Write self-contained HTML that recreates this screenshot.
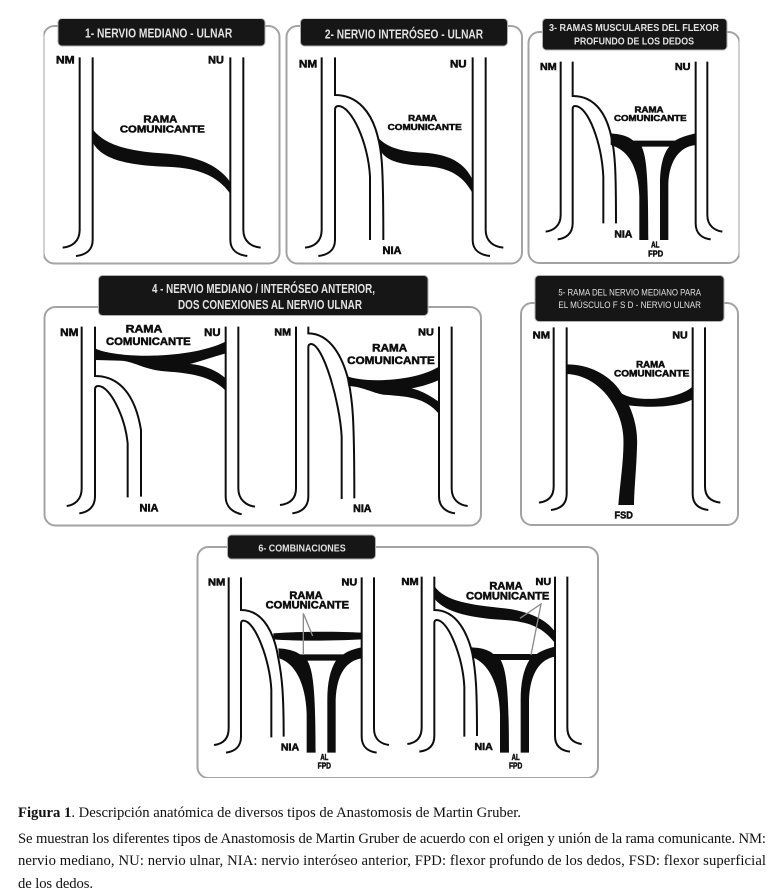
<!DOCTYPE html>
<html lang="es">
<head>
<meta charset="utf-8">
<title>Figura 1</title>
<style>
html,body{margin:0;padding:0;background:#fff;width:771px;height:894px;overflow:hidden}
svg{display:block;position:absolute;left:0;top:0}
.box{fill:#fff;stroke:#a3a3a3;stroke-width:2}
.bar{fill:#121212;stroke:#b0b0b0;stroke-width:1}
.l{fill:none;stroke:#111;stroke-width:6}
.k{fill:#0a0a0a;stroke:none}
.c{fill:none;stroke:#8a8a8a;stroke-width:4}
text{font-family:"Liberation Sans",sans-serif;font-weight:bold}
.t{font-family:"Liberation Sans Narrow","Liberation Sans",sans-serif;fill:#e2e2e2;text-anchor:middle}
.n{fill:#111;stroke:#111;stroke-width:1.6;text-anchor:middle}
.cap{font-family:"Liberation Serif",serif;font-weight:normal;font-size:14.67px;fill:#111}
</style>
</head>
<body>
<svg width="771" height="894" viewBox="0 0 771 894" xmlns="http://www.w3.org/2000/svg">
<defs><filter id="soft" x="0" y="0" width="100%" height="100%"><feGaussianBlur stdDeviation="0.35"/></filter></defs>
<rect width="771" height="894" fill="#fff"/>
<g filter="url(#soft)">
<!-- boxes -->
<rect class="box" x="43.5" y="26" width="236" height="237.5" rx="11"/>
<rect class="box" x="286.5" y="26" width="235.5" height="237.5" rx="11"/>
<rect class="box" x="528.5" y="32" width="211" height="231" rx="11"/>
<rect class="box" x="44.5" y="307" width="436.5" height="218.5" rx="11"/>
<rect class="box" x="521" y="303" width="217" height="222" rx="11"/>
<rect class="box" x="197.5" y="547" width="400.5" height="231" rx="11"/>
<!-- title bars -->
<rect class="bar" x="58" y="18.5" width="207" height="27.5" rx="4"/>
<rect class="bar" x="300.5" y="18.5" width="207" height="27.5" rx="4"/>
<rect class="bar" x="542.5" y="18.5" width="184.5" height="31.5" rx="4"/>
<rect class="bar" x="98.5" y="275.5" width="329.5" height="40" rx="4"/>
<rect class="bar" x="535" y="275.5" width="189" height="46" rx="4"/>
<rect class="bar" x="227.5" y="535" width="148" height="24" rx="4"/>

<!-- Panel 1 -->
<g transform="translate(30,10) scale(.33333)">
<path class="l" d="M149 142V660C149 695 125 710 98 713M188 142V690C188 722 165 735 138 738M601 142V690C601 722 625 735 652 738M640 142V660C640 695 665 710 692 713"/>
<path class="k" d="M190 360C225 405 300 425 400 430C500 437 565 465 600 515V550C560 495 500 472 400 470C285 465 215 445 190 400Z"/>
<text class="t" x="386" y="82" font-size="38" textLength="442" lengthAdjust="spacingAndGlyphs">1- NERVIO MEDIANO - ULNAR</text>
<text class="n" x="106" y="160" font-size="32" textLength="56" lengthAdjust="spacingAndGlyphs">NM</text>
<text class="n" x="558" y="160" font-size="32" textLength="47" lengthAdjust="spacingAndGlyphs">NU</text>
<text class="n" x="391" y="338" font-size="31" textLength="102" lengthAdjust="spacingAndGlyphs">RAMA</text>
<text class="n" x="397" y="368" font-size="31" textLength="255" lengthAdjust="spacingAndGlyphs">COMUNICANTE</text>
</g>

<!-- Panel 2 -->
<g transform="translate(280,10) scale(.33333)">
<path class="l" d="M125 142V660C125 695 102 710 75 713M165 142V255C235 255 275 310 292 375C305 420 310 460 310 690M270 690V500C265 400 215 288 175 288C168 288 165 292 165 300V690C165 722 142 735 115 738M578 142V690C578 722 602 735 630 738M617 142V660C617 695 642 710 670 713"/>
<path class="k" d="M290 378C320 415 370 425 430 428C510 433 555 460 578 510V550C545 490 500 472 430 468C350 463 320 450 303 425Z"/>
<text class="t" x="372" y="86" font-size="38" textLength="475" lengthAdjust="spacingAndGlyphs">2- NERVIO INTERÓSEO - ULNAR</text>
<text class="n" x="84" y="172" font-size="32" textLength="55" lengthAdjust="spacingAndGlyphs">NM</text>
<text class="n" x="535" y="172" font-size="32" textLength="50" lengthAdjust="spacingAndGlyphs">NU</text>
<text class="n" x="428" y="333" font-size="26" textLength="87" lengthAdjust="spacingAndGlyphs">RAMA</text>
<text class="n" x="434" y="360" font-size="26" textLength="222" lengthAdjust="spacingAndGlyphs">COMUNICANTE</text>
<text class="n" x="336" y="732" font-size="32" textLength="57" lengthAdjust="spacingAndGlyphs">NIA</text>
</g>

<!-- Panel 3 -->
<g transform="translate(520,10) scale(.33333)">
<path class="l" d="M122 155V615C122 648 100 662 77 665M158 155V258C230 258 262 320 275 385C285 430 288 480 288 640M250 640V500C245 400 205 288 165 288C160 288 158 292 158 298V640C158 672 136 685 113 688M527 155V640C527 672 548 685 572 688M562 155V615C562 648 585 662 607 665"/>
<path class="k" d="M272 370C300 372 325 378 340 392H465C480 382 505 375 527 370V405C480 410 448 450 445 520V690H420V520C420 470 430 430 448 410H365C378 440 385 480 385 690H358V560C355 470 325 420 272 405Z"/>
<text class="t" x="342" y="63" font-size="31" textLength="510" lengthAdjust="spacingAndGlyphs">3- RAMAS MUSCULARES DEL FLEXOR</text>
<text class="t" x="342" y="103" font-size="31" textLength="360" lengthAdjust="spacingAndGlyphs">PROFUNDO DE LOS DEDOS</text>
<text class="n" x="85" y="180" font-size="30" textLength="50" lengthAdjust="spacingAndGlyphs">NM</text>
<text class="n" x="488" y="180" font-size="30" textLength="47" lengthAdjust="spacingAndGlyphs">NU</text>
<text class="n" x="387" y="307" font-size="26" textLength="87" lengthAdjust="spacingAndGlyphs">RAMA</text>
<text class="n" x="391" y="333" font-size="26" textLength="218" lengthAdjust="spacingAndGlyphs">COMUNICANTE</text>
<text class="n" x="310" y="683" font-size="30" textLength="54" lengthAdjust="spacingAndGlyphs">NIA</text>
<text class="n" x="406" y="713" font-size="24" textLength="25" lengthAdjust="spacingAndGlyphs">AL</text>
<text class="n" x="407" y="740" font-size="26" textLength="45" lengthAdjust="spacingAndGlyphs">FPD</text>
</g>

<!-- Panel 4 title -->
<text class="t" x="263.5" y="293" font-size="12.5" textLength="223" lengthAdjust="spacingAndGlyphs">4 - NERVIO MEDIANO / INTERÓSEO ANTERIOR,</text>
<text class="t" x="270" y="309" font-size="12.5" textLength="184" lengthAdjust="spacingAndGlyphs">DOS CONEXIONES  AL NERVIO ULNAR</text>

<!-- Panel 4 left -->
<g transform="translate(35,270) scale(.33333)">
<path class="l" d="M140 170V655C140 690 118 705 95 708M180 170V318C250 318 300 370 318 480V680M278 682V520C270 440 225 348 190 348C183 348 180 352 180 358V680C180 712 158 727 133 730M572 170V680C572 712 595 727 620 733M610 170V655C610 690 635 707 660 710"/>
<path class="k" d="M180 235C240 265 460 270 572 215V250C530 262 490 275 465 282C510 285 550 305 572 325V362C530 320 470 310 400 305C320 300 300 272 250 272L180 270Z"/>
<text class="n" x="103" y="198" font-size="32" textLength="55" lengthAdjust="spacingAndGlyphs">NM</text>
<text class="n" x="532" y="198" font-size="32" textLength="49" lengthAdjust="spacingAndGlyphs">NU</text>
<text class="n" x="327" y="188" font-size="33" textLength="110" lengthAdjust="spacingAndGlyphs">RAMA</text>
<text class="n" x="340" y="225" font-size="33" textLength="254" lengthAdjust="spacingAndGlyphs">COMUNICANTE</text>
<text class="n" x="342" y="725" font-size="32" textLength="57" lengthAdjust="spacingAndGlyphs">NIA</text>
</g>

<!-- Panel 4 right -->
<g transform="translate(265,270) scale(.33333)">
<path class="l" d="M93 170V655C93 690 70 702 45 705M130 170V190C200 190 235 270 250 330C262 390 268 430 268 685M230 687V500C225 400 175 222 138 222C133 222 130 226 130 232V680C130 712 108 727 82 730M522 170V680C522 712 545 727 570 730M560 170V655C560 690 583 705 608 708"/>
<path class="k" d="M245 318C300 340 450 335 522 290V330C500 340 470 350 440 355C480 365 505 385 522 395V432C480 380 420 380 370 375C330 375 300 350 250 348Z"/>
<text class="n" x="53" y="196" font-size="30" textLength="50" lengthAdjust="spacingAndGlyphs">NM</text>
<text class="n" x="483" y="196" font-size="30" textLength="47" lengthAdjust="spacingAndGlyphs">NU</text>
<text class="n" x="374" y="245" font-size="33" textLength="105" lengthAdjust="spacingAndGlyphs">RAMA</text>
<text class="n" x="378" y="282" font-size="33" textLength="263" lengthAdjust="spacingAndGlyphs">COMUNICANTE</text>
<text class="n" x="292" y="726" font-size="32" textLength="55" lengthAdjust="spacingAndGlyphs">NIA</text>
</g>

<!-- Panel 5 -->
<g transform="translate(515,270) scale(.33333)">
<path class="l" d="M116 172V650C116 684 95 695 72 698M155 172V672C155 706 132 717 108 720M533 172V672C533 706 556 717 580 720M570 172V650C570 684 592 695 616 698"/>
<path class="k" d="M155 283C230 283 290 320 320 370C355 395 480 395 533 350V388C490 410 410 415 342 406C362 450 368 490 366 530C364 600 358 650 357 705H310C315 640 328 560 325 500C320 410 250 315 155 312Z"/>
<text class="t" x="344" y="76" font-size="28" textLength="428" lengthAdjust="spacingAndGlyphs" style="font-weight:normal">5- RAMA DEL NERVIO MEDIANO PARA</text>
<text class="t" x="344" y="114" font-size="28" textLength="428" lengthAdjust="spacingAndGlyphs" style="font-weight:normal">EL MÚSCULO  F S D  -  NERVIO ULNAR</text>
<text class="n" x="79" y="205" font-size="30" textLength="52" lengthAdjust="spacingAndGlyphs">NM</text>
<text class="n" x="495" y="205" font-size="30" textLength="46" lengthAdjust="spacingAndGlyphs">NU</text>
<text class="n" x="407" y="292" font-size="27" textLength="87" lengthAdjust="spacingAndGlyphs">RAMA</text>
<text class="n" x="410" y="320" font-size="27" textLength="226" lengthAdjust="spacingAndGlyphs">COMUNICANTE</text>
<text class="n" x="326" y="745" font-size="30" textLength="55" lengthAdjust="spacingAndGlyphs">FSD</text>
</g>

<!-- Panel 6 left -->
<g transform="translate(190,530) scale(.33333)">
<path class="l" d="M116 142V595C116 630 95 642 72 645M153 142V240C225 240 255 320 265 385C276 440 281 490 281 620M244 622V480C240 390 195 272 160 272C155 272 153 276 153 282V620C153 652 132 665 108 668M515 142V620C515 652 536 665 560 668M552 142V595C552 630 575 642 597 645"/>
<path class="k" d="M250 310C330 304 440 304 515 308V328C440 332 330 334 250 328Z"/>
<path class="k" d="M265 355C290 356 315 362 330 373H460C475 362 495 356 515 352V385C470 392 440 430 437 510V668H412V510C412 460 420 420 438 392H352C368 420 377 470 377 668H350V550C347 460 315 400 268 385Z"/>
<path class="c" d="M368 318L340 250L340 375"/>
<text class="t" x="336" y="65" font-size="31" textLength="262" lengthAdjust="spacingAndGlyphs">6- COMBINACIONES</text>
<text class="n" x="80" y="167" font-size="30" textLength="52" lengthAdjust="spacingAndGlyphs">NM</text>
<text class="n" x="478" y="167" font-size="30" textLength="47" lengthAdjust="spacingAndGlyphs">NU</text>
<text class="n" x="348" y="207" font-size="33" textLength="100" lengthAdjust="spacingAndGlyphs">RAMA</text>
<text class="n" x="352" y="236" font-size="33" textLength="250" lengthAdjust="spacingAndGlyphs">COMUNICANTE</text>
<text class="n" x="300" y="662" font-size="30" textLength="55" lengthAdjust="spacingAndGlyphs">NIA</text>
<text class="n" x="403" y="690" font-size="24" textLength="24" lengthAdjust="spacingAndGlyphs">AL</text>
<text class="n" x="403" y="716" font-size="26" textLength="40" lengthAdjust="spacingAndGlyphs">FPD</text>
</g>

<!-- Panel 6 right -->
<g transform="translate(395,530) scale(.33333)">
<path class="l" d="M80 140V592C80 627 60 639 37 642M118 140V240C190 240 220 320 232 370C243 430 246 480 246 618M208 620V470C203 380 160 270 125 270C120 270 118 274 118 280V618C118 650 97 662 73 665M480 140V618C480 650 500 662 525 665M517 140V592C517 627 538 639 560 642"/>
<path class="k" d="M118 168C150 215 230 225 330 235C400 245 450 265 480 305V340C440 285 390 275 330 270C240 265 150 250 118 205Z"/>
<path class="k" d="M230 352C255 353 280 358 295 372H425C440 362 460 355 480 350V380C435 388 405 430 402 510V668H377V510C377 460 385 420 403 390H317C333 420 342 470 342 668H315V550C312 460 280 400 233 382Z"/>
<path class="c" d="M375 265L438 222L408 375"/>
<text class="n" x="45" y="165" font-size="30" textLength="52" lengthAdjust="spacingAndGlyphs">NM</text>
<text class="n" x="445" y="165" font-size="30" textLength="47" lengthAdjust="spacingAndGlyphs">NU</text>
<text class="n" x="333" y="178" font-size="33" textLength="100" lengthAdjust="spacingAndGlyphs">RAMA</text>
<text class="n" x="338" y="208" font-size="33" textLength="250" lengthAdjust="spacingAndGlyphs">COMUNICANTE</text>
<text class="n" x="266" y="660" font-size="30" textLength="55" lengthAdjust="spacingAndGlyphs">NIA</text>
<text class="n" x="362" y="690" font-size="24" textLength="24" lengthAdjust="spacingAndGlyphs">AL</text>
<text class="n" x="362" y="716" font-size="26" textLength="40" lengthAdjust="spacingAndGlyphs">FPD</text>
</g>
</g>

<!-- Caption -->
<text class="cap" x="18" y="817" textLength="503"><tspan font-weight="bold">Figura 1</tspan>. Descripción anatómica de diversos tipos de Anastomosis de Martin Gruber.</text>
<text class="cap" x="18" y="843" textLength="748" lengthAdjust="spacing">Se muestran los diferentes tipos de Anastomosis de Martin Gruber de acuerdo con el origen y unión de la rama comunicante. NM:</text>
<text class="cap" x="18" y="865" textLength="748" lengthAdjust="spacing">nervio mediano, NU: nervio ulnar, NIA: nervio interóseo anterior, FPD: flexor profundo de los dedos, FSD: flexor superficial</text>
<text class="cap" x="18" y="888" textLength="75">de los dedos.</text>
</svg>
</body>
</html>
